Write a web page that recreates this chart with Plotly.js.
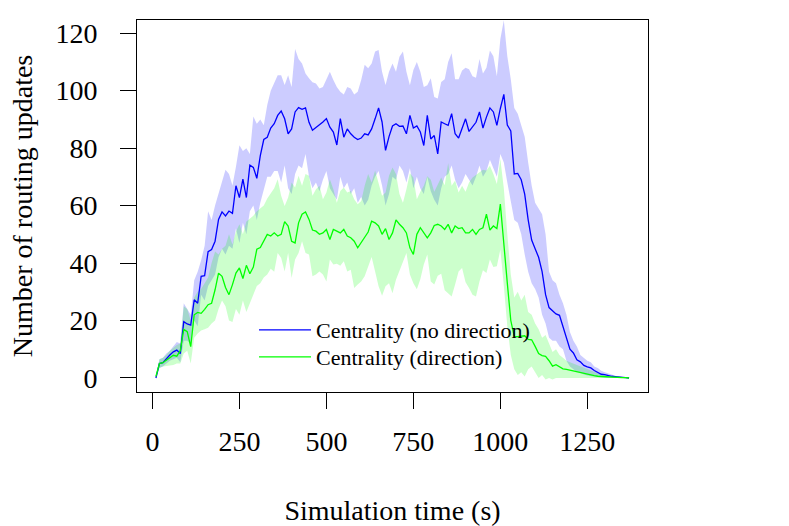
<!DOCTYPE html>
<html>
<head>
<meta charset="utf-8">
<script src="https://cdn.plot.ly/plotly-3.0.1.min.js"></script>
<style>html,body{margin:0;padding:0;background:#fff;}#chart{width:789px;height:526px;}</style>
</head>
<body>
<div id="chart"></div>
<script>
// Simulation time (s)
const time = [];
for (let t = 10; t <= 1370; t += 10) time.push(t);

// Centrality (no direction): mean, upper and lower band
const blueMean = [
0,5,5.3,6.8,8,9.1,9.7,8.5,19.6,18.8,
18.4,27.2,26,35.4,35.6,44,44.7,47.6,55.2,57.8,
56.4,58.1,57.3,66.9,62.8,69.2,62.8,74.1,73.3,69.5,
77.4,83,83.8,87,88.5,91.4,92.9,90.2,85,86.7,
92.6,94.1,93.5,94,89,86.2,87.1,88.1,89.1,90.3,
87.3,85.6,81.1,90.3,83.8,86.7,85,83.8,83,83.5,
85,84.6,86.7,90.2,94,89.1,79.2,84,87.7,88.5,
87.6,87.7,85,91.4,87,87.7,85.6,80.9,91.4,83.2,
84.4,78,89.1,88.5,87.9,92,85,83.5,86.7,90.2,
85.8,87.3,89,92.6,87,90.8,94,92.6,87.9,93.8,
98.7,88,86,71,71.2,69,64,55,48,45,
42,37,29,24.5,23.5,22.3,21.8,18,14,10,
8.7,6.3,5.6,4.4,3.9,3.5,2.6,2.0,1.3,1.2,
0.8,0.6,0.5,0.3,0.2,0.1,0];
const blueUpper = [
0.5,6.5,7,8.5,9.5,11,12.5,12,26,24,
22,34,37,41,46,58,55,60,64,68,
72.5,71,67,73.5,81,79,80,78,91,88.5,
90,88,95,100,103,105.4,105.4,102,105.4,101.3,
114.5,111,109.5,106,104.3,102.9,102.5,100.8,101.3,103.7,
106.6,103.7,101.3,99.6,98.7,101.3,100.8,98.7,99.6,103.7,
109,107.8,109.5,113.6,114.2,106.6,102,106.6,109.5,106.6,
111.8,113.6,106.6,101.9,107.2,110,106.6,101.3,101.9,104.3,
97.8,97.3,103,104,110,113,104,104,107,108,
107.5,105,104.5,111,106,108,114,112,105,118,
124.5,112,104,94,92,88,84,75,67,61,
59,57,50,37,34,33,29,26,22,16,
13,11,8,7,6,5.5,4,3.5,2.5,2,
1.5,1.2,0.8,0.5,0.3,0.2,0];
const blueLower = [
0,3.5,4,5,6,6.5,7,5.5,13,13,
12,20,18,29,27,32,34,36,42,45,
43,46,45,52,47,54,50,58,60,55,
61,66,70,70,72,72,68,74,66,64,
71,74,73,78,70,66,68,65,69,72,
66,64,62,70,66,68,64,66,61,63,
60,62,67,70,72,67,60,64,70,69,
74,72,68,73,66,70,66,64,70,65,
62,60,66,70,71,74,69,66,68,71,
69,67,70,74,70,72,76,73,70,78,
75,68,62,55,54,50,43,37,33,31,
28,22,19,14,13,13,11,10,6,4,
3,2.2,1.8,1.2,0.9,0.6,0.4,0.3,0.1,0.1,
0,0,0,0,0,0,0];

// Centrality (direction): mean, upper and lower band
const greenMean = [
0.5,5,5.3,6.2,7.1,7.9,7.6,9.5,16.9,16.1,
10.9,22,22.8,22.5,23.9,25.5,26,30.7,36.5,35.4,
31.5,29,32.5,36.5,38.3,34.6,39.2,36.3,38.6,44.8,
45.4,47.8,50,49.4,50.5,49.4,50,54.4,52.9,47.6,
47,54,57,57.8,55.2,51.5,51.1,50,50.5,51.7,
48.2,51.7,51.1,50.5,51.7,49.4,48.8,47.6,45.3,47.3,
48.8,50.8,54.6,54,52.9,50,52,48.2,50.5,55,
53.5,52.3,50.5,45.3,43,50,52.3,50.5,48.8,50.5,
53.1,53.5,52.9,51.7,53.5,50.5,52.9,52,52.3,50.5,
50.5,51.7,50,51.7,52.3,57,51.5,52.9,52,60.5,
48,33,20,14.5,14.4,14.6,14.7,13.4,13.3,11,
8.5,7.8,7.5,6,4.1,4.6,4,3.2,3,2.7,
2.5,2.1,1.8,1.5,1.3,1.0,0.8,0.6,0.5,0.4,
0.3,0.3,0.2,0.2,0.1,0.1,0];
const greenUpper = [
0.5,6.5,7,8,9.5,10.5,11.5,12,25,24,
20,28,30,31,33,35,40,44,43,45,
46,50,46.5,51,53.5,50,54.5,55.5,56.5,58,
59,60,62.5,64.5,66,69.2,63.4,59.9,62.8,68,
66.3,70.4,66.9,71,70.4,63.4,65.7,66.9,62.2,64.6,
69.2,65.7,61,65.1,66.3,64.6,65.1,62.2,60.5,61.6,
66.9,71,68,72.2,67.5,63.4,64.6,70.4,73.3,71,
64,61,65.7,71.3,69.8,62.2,64.8,66.9,70.2,69,
64.8,67.5,69.8,67.1,74.8,66.9,68.7,64.6,66.9,64.8,
68,69.8,70.6,71.6,72.5,72.2,73.9,71,67.5,76.2,
66,50,36,28,30,27,29,23,22,19,
17,14,15,12,9,10,8,7,6,5.5,
5,4.5,4,3.5,3,2.5,2,1.5,1.2,1,
0.8,0.6,0.5,0.4,0.3,0.2,0];
const greenLower = [
0,3.5,4,4.2,4.5,4.5,5,5,8.5,9.5,
5,14,15.5,16.5,17,17.5,19,20,24,27,
25,20,19.5,24,22,27,23,26,29,32,
33,35,36,38,37,43.5,41.8,37.1,43.5,34.8,
41.2,43.5,47.6,43.5,43,35.4,36,37.1,36,33.6,
41.2,39.5,39.8,39.1,40.6,37.1,37.7,31.3,32.5,33.6,
35.4,38.9,42.1,37.1,31.9,28.6,31.9,33,29.5,34.2,
37.1,40,43.5,36,33,30.9,34.4,39.5,43,33.6,
32.5,35.6,36.3,30.5,29.3,28.4,32.5,37.1,38.3,33.3,
31.3,29,28.4,33.6,37.5,36.5,41.2,38.6,38.9,44.7,
32,18,8,3,1,2,0.5,3,4,2,
0,1,-0.5,0,-0.5,0,0,0,0,0,
0,0,0,0,0,0,0,0,0,0,
0,0,0,0,0,0,0];

const xTicks = [0, 250, 500, 750, 1000, 1250];
const yTicks = [0, 20, 40, 60, 80, 100, 120];
const seriesNames = ['Centrality (no direction)', 'Centrality (direction)'];

const FONT = 'Liberation Serif, Times New Roman, serif';
const noLine = {width: 0, color: 'rgba(0,0,0,0)'};

const traces = [
  {x: time, y: blueLower, type: 'scatter', mode: 'lines', line: noLine, showlegend: false, hoverinfo: 'skip'},
  {x: time, y: blueUpper, type: 'scatter', mode: 'lines', line: noLine, fill: 'tonexty', fillcolor: 'rgba(0,0,255,0.2)', showlegend: false, hoverinfo: 'skip'},
  {x: time, y: greenLower, type: 'scatter', mode: 'lines', line: noLine, showlegend: false, hoverinfo: 'skip'},
  {x: time, y: greenUpper, type: 'scatter', mode: 'lines', line: noLine, fill: 'tonexty', fillcolor: 'rgba(0,255,0,0.2)', showlegend: false, hoverinfo: 'skip'},
  {x: time, y: blueMean, type: 'scatter', mode: 'lines', name: seriesNames[0], legend: 'legend', line: {color: '#0000ff', width: 1.3}},
  {x: time, y: greenMean, type: 'scatter', mode: 'lines', name: seriesNames[1], legend: 'legend2', line: {color: '#00ff00', width: 1.3}}
];

const axisCommon = {
  showgrid: false, zeroline: false, showline: true, mirror: true,
  linecolor: '#000', linewidth: 1, ticks: 'outside', ticklen: 16, tickwidth: 1, tickcolor: '#000',
  tickfont: {family: FONT, size: 28, color: '#000'}
};

const legendCommon = {
  x: 0.229, xanchor: 'left', yanchor: 'top',
  bgcolor: 'rgba(0,0,0,0)', borderwidth: 0,
  font: {family: FONT, size: 22, color: '#000'},
  itemwidth: 52, traceorder: 'normal'
};

const layout = {
  width: 789, height: 526, autosize: false,
  margin: {l: 137, r: 141, t: 20, b: 134},
  paper_bgcolor: '#fff', plot_bgcolor: '#fff',
  font: {family: FONT, color: '#000'},
  xaxis: Object.assign({}, axisCommon, {
    range: [-44.4, 1424.4], tickmode: 'array', tickvals: xTicks, ticktext: xTicks.map(String),
    ticklabelstandoff: 8,
    title: {text: 'Simulation time (s)', font: {family: FONT, size: 28, color: '#000'}, standoff: 46},
    automargin: false
  }),
  yaxis: Object.assign({}, axisCommon, {
    range: [-4.88, 124.6], tickmode: 'array', tickvals: yTicks, ticktext: yTicks.map(String),
    ticklabelstandoff: 17,
    title: {text: 'Number of routing updates', font: {family: FONT, size: 28, color: '#000'}, standoff: 14},
    automargin: false
  }),
  legend: Object.assign({}, legendCommon, {y: 0.2231}),
  legend2: Object.assign({}, legendCommon, {y: 0.1505}),
  showlegend: true
};

Plotly.newPlot('chart', traces, layout, {staticPlot: true, displayModeBar: false});
</script>
</body>
</html>
